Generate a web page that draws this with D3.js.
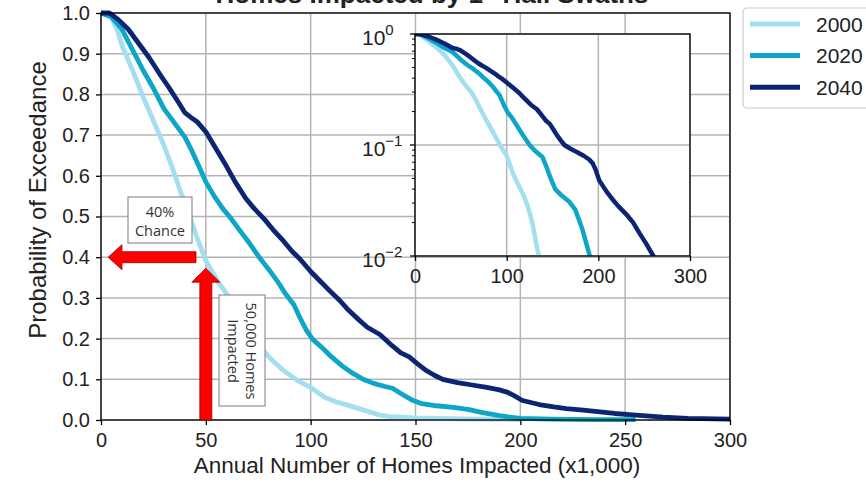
<!DOCTYPE html>
<html>
<head>
<meta charset="utf-8">
<script src="https://cdn.jsdelivr.net/npm/d3@7"></script>
<style>
  body { margin: 0; background: #fff; }
  text { font-family: "Liberation Sans", Arial, sans-serif; fill: #222; }
  .note { font-family: "Open Sans", sans-serif; font-size: 14.5px; fill: #333; }
</style>
</head>
<body>
<div id="graph"></div>
<script>
//exceedance curves, [homes x1000, probability]
var years = ["2000", "2020", "2040"];

var curve2000 = [[0,1.0],[3,0.998],[5,0.99],[8,0.955],[10,0.92],[15,0.86],[20,0.795],[25,0.735],[30,0.675],[34,0.62],[38,0.56],[42,0.505],[46,0.445],[50,0.392],[53,0.365],[56,0.338],[62,0.295],[66,0.258],[70,0.222],[77,0.172],[82,0.145],[87,0.122],[94,0.096],[100,0.08],[107,0.055],[112,0.045],[118,0.036],[123,0.028],[128,0.02],[133,0.012],[138,0.008],[150,0.005],[170,0.003],[200,0.001]];

var curve2020 = [[0,1.0],[5,0.99],[10,0.96],[15,0.91],[20,0.86],[25,0.815],[30,0.765],[35,0.73],[40,0.695],[43,0.665],[47,0.62],[50,0.585],[54,0.55],[58,0.52],[62,0.495],[66,0.467],[71,0.433],[75,0.403],[80,0.37],[84,0.342],[88,0.31],[92,0.283],[95,0.25],[98,0.22],[101,0.198],[106,0.175],[110,0.155],[115,0.133],[120,0.115],[125,0.1],[130,0.09],[135,0.083],[139,0.078],[143,0.065],[148,0.05],[153,0.04],[160,0.035],[168,0.031],[175,0.026],[182,0.018],[190,0.0105],[195,0.007],[200,0.004],[215,0.002],[235,0.001],[255,0.0008]];

var curve2040 = [[0,1.0],[4,1.0],[8,0.985],[13,0.96],[18,0.925],[23,0.89],[28,0.85],[32,0.82],[37,0.78],[40,0.755],[43,0.743],[46,0.732],[50,0.708],[55,0.665],[60,0.622],[64,0.585],[69,0.545],[73,0.52],[78,0.493],[82,0.468],[87,0.44],[91,0.415],[95,0.395],[100,0.365],[104,0.344],[109,0.318],[114,0.293],[118,0.27],[123,0.246],[127,0.228],[133,0.21],[139,0.182],[143,0.165],[147,0.155],[151,0.138],[155,0.122],[159,0.11],[163,0.1],[170,0.092],[177,0.086],[184,0.08],[190,0.074],[194,0.068],[197,0.06],[201,0.048],[209,0.038],[216,0.032],[222,0.028],[230,0.024],[238,0.02],[245,0.016],[252,0.013],[260,0.01],[268,0.007],[280,0.004],[300,0.002]];

var xTicks = [0, 50, 100, 150, 200, 250, 300];
var yTicks = [0, 0.1, 0.2, 0.3, 0.4, 0.5, 0.6, 0.7, 0.8, 0.9, 1.0];
var insetXTicks = [0, 100, 200, 300];
var insetYTicks = [1, 0.1, 0.01];
var insetYLabels = ["0", "\u22121", "\u22122"];

(function(){
	"use strict";

	var width = 866, height = 486;
	var colors = ["#a3dff0", "#0da6c6", "#0b2573"];
	var series = [curve2000, curve2020, curve2040];
	var grid = "#b4b4b4";

	var svg = d3.select("#graph").append("svg")
		.attr("width", width)
		.attr("height", height);

	//main axes scales
	var x = d3.scaleLinear().domain([0, 300]).range([101, 730]);
	var y = d3.scaleLinear().domain([0, 1]).range([420, 13]);

	//gridlines
	svg.append("g").selectAll("line").data(xTicks).enter().append("line")
		.attr("x1", function(d){ return x(d); }).attr("x2", function(d){ return x(d); })
		.attr("y1", y(0)).attr("y2", y(1))
		.attr("stroke", grid).attr("stroke-width", 1.5);
	svg.append("g").selectAll("line").data(yTicks).enter().append("line")
		.attr("y1", function(d){ return y(d); }).attr("y2", function(d){ return y(d); })
		.attr("x1", x(0)).attr("x2", x(300))
		.attr("stroke", grid).attr("stroke-width", 1.5);

	var line = d3.line()
		.x(function(d){ return x(d[0]); })
		.y(function(d){ return y(d[1]); });

	svg.append("g").selectAll("path").data(series).enter().append("path")
		.attr("d", line)
		.attr("fill", "none")
		.attr("stroke", function(d, i){ return colors[i]; })
		.attr("stroke-width", 4.8)
		.attr("stroke-linejoin", "round");

	//frame
	svg.append("rect")
		.attr("x", x(0)).attr("y", y(1))
		.attr("width", x(300) - x(0)).attr("height", y(0) - y(1))
		.attr("fill", "none").attr("stroke", "#000").attr("stroke-width", 1.3);

	var xAxis = svg.append("g")
		.attr("transform", "translate(0," + y(0) + ")")
		.call(d3.axisBottom(x).tickValues(xTicks).tickSize(5).tickPadding(8).tickFormat(d3.format("d")));
	var yAxis = svg.append("g")
		.attr("transform", "translate(" + x(0) + ",0)")
		.call(d3.axisLeft(y).tickValues(yTicks).tickSize(5).tickPadding(6).tickFormat(d3.format(".1f")));
	[xAxis, yAxis].forEach(function(a){
		a.select(".domain").remove();
		a.selectAll(".tick line").attr("stroke", "#000").attr("stroke-width", 1.3);
		a.selectAll("text").style("font-size", "20px").attr("fill", "#222");
	});

	svg.append("text")
		.attr("text-anchor", "middle")
		.attr("x", 417).attr("y", 473)
		.style("font-size", "22.5px")
		.text("Annual Number of Homes Impacted (x1,000)");
	svg.append("text")
		.attr("text-anchor", "middle")
		.attr("transform", "translate(46,200)rotate(-90)")
		.style("font-size", "24px")
		.text("Probability of Exceedance");

	//title, mostly cut off at the top edge
	svg.append("text")
		.attr("text-anchor", "middle")
		.attr("x", 432).attr("y", 3)
		.style("font-size", "26px").style("font-weight", "bold")
		.text("Homes Impacted by 1\" Hail Swaths");

	//red arrows
	var arrows = svg.append("g").attr("fill", "#ff0000").attr("stroke", "#9a0000").attr("stroke-width", 0.8);
	var ay = y(0.4);
	arrows.append("path").attr("d", d3.line()([
		[x(3.4), ay], [x(10), ay - 12.5], [x(10), ay - 5.5], [x(45.3), ay - 5.5],
		[x(45.3), ay + 5.5], [x(10), ay + 5.5], [x(10), ay + 12.5]]) + "Z");
	var ax = x(50), tip = y(0.373);
	arrows.append("path").attr("d", d3.line()([
		[ax, tip], [ax + 14, tip + 14], [ax + 6, tip + 14], [ax + 6, y(0)],
		[ax - 6, y(0)], [ax - 6, tip + 14], [ax - 14, tip + 14]]) + "Z");

	//note boxes
	svg.append("rect").attr("x", 128).attr("y", 197).attr("width", 64).attr("height", 46)
		.attr("fill", "#fff").attr("stroke", "#7a7a7a").attr("stroke-width", 1);
	svg.append("text").attr("class", "note").attr("text-anchor", "middle")
		.attr("x", 160).attr("y", 217).text("40%");
	svg.append("text").attr("class", "note").attr("text-anchor", "middle")
		.attr("x", 160).attr("y", 236).text("Chance");

	svg.append("rect").attr("x", 219).attr("y", 295).attr("width", 46).attr("height", 111)
		.attr("fill", "#fff").attr("stroke", "#7a7a7a").attr("stroke-width", 1);
	svg.append("text").attr("class", "note").attr("text-anchor", "middle")
		.attr("transform", "translate(246,351)rotate(90)").text("50,000 Homes");
	svg.append("text").attr("class", "note").attr("text-anchor", "middle")
		.attr("transform", "translate(228,351)rotate(90)").text("Impacted");

	//inset on log scale
	var xi = d3.scaleLinear().domain([0, 300]).range([415, 690]);
	var yi = d3.scaleLog().domain([0.01, 1]).range([256, 34]);
	var inset = svg.append("g");

	inset.append("rect")
		.attr("x", xi(0)).attr("y", yi(1))
		.attr("width", xi(300) - xi(0)).attr("height", yi(0.01) - yi(1))
		.attr("fill", "#fff");

	inset.append("g").selectAll("line").data(insetXTicks).enter().append("line")
		.attr("x1", function(d){ return xi(d); }).attr("x2", function(d){ return xi(d); })
		.attr("y1", yi(0.01)).attr("y2", yi(1))
		.attr("stroke", grid).attr("stroke-width", 1.5);
	inset.append("g").selectAll("line").data(insetYTicks).enter().append("line")
		.attr("y1", function(d){ return yi(d); }).attr("y2", function(d){ return yi(d); })
		.attr("x1", xi(0)).attr("x2", xi(300))
		.attr("stroke", grid).attr("stroke-width", 1.5);

	svg.append("clipPath").attr("id", "insetClip").append("rect")
		.attr("x", xi(0)).attr("y", yi(1))
		.attr("width", xi(300) - xi(0)).attr("height", yi(0.01) - yi(1));

	var lineLog = d3.line()
		.defined(function(d){ return d[1] > 0; })
		.x(function(d){ return xi(d[0]); })
		.y(function(d){ return yi(d[1]); });

	inset.append("g").attr("clip-path", "url(#insetClip)")
		.selectAll("path").data(series).enter().append("path")
		.attr("d", lineLog)
		.attr("fill", "none")
		.attr("stroke", function(d, i){ return colors[i]; })
		.attr("stroke-width", 4.5)
		.attr("stroke-linejoin", "round");

	inset.append("rect")
		.attr("x", xi(0)).attr("y", yi(1))
		.attr("width", xi(300) - xi(0)).attr("height", yi(0.01) - yi(1))
		.attr("fill", "none").attr("stroke", "#000").attr("stroke-width", 1.3);

	var ixAxis = inset.append("g")
		.attr("transform", "translate(0," + yi(0.01) + ")")
		.call(d3.axisBottom(xi).tickValues(insetXTicks).tickSize(5).tickPadding(8).tickFormat(d3.format("d")));
	ixAxis.select(".domain").remove();
	ixAxis.selectAll(".tick line").attr("stroke", "#000").attr("stroke-width", 1.3);
	ixAxis.selectAll("text").style("font-size", "20px").attr("fill", "#222");

	//log ticks, major and minor
	var minor = [];
	[0.01, 0.1].forEach(function(b){
		for (var k = 2; k < 10; k++) minor.push(b * k);
	});
	inset.append("g").selectAll("line").data(minor).enter().append("line")
		.attr("x1", xi(0) - 3).attr("x2", xi(0))
		.attr("y1", function(d){ return yi(d); }).attr("y2", function(d){ return yi(d); })
		.attr("stroke", "#000").attr("stroke-width", 1);
	inset.append("g").selectAll("line").data(insetYTicks).enter().append("line")
		.attr("x1", xi(0) - 5).attr("x2", xi(0))
		.attr("y1", function(d){ return yi(d); }).attr("y2", function(d){ return yi(d); })
		.attr("stroke", "#000").attr("stroke-width", 1.3);

	var lab = inset.append("g").selectAll("text").data(insetYTicks).enter().append("text")
		.attr("x", 362)
		.attr("y", function(d){ return yi(d) + 11; })
		.style("font-size", "21px");
	lab.append("tspan").text("10");
	lab.append("tspan")
		.attr("dy", -10)
		.style("font-size", "15px")
		.text(function(d, i){ return insetYLabels[i]; });

	//legend
	var legend = svg.append("g");
	legend.append("rect")
		.attr("x", 743).attr("y", 8).attr("width", 140).attr("height", 100).attr("rx", 4)
		.attr("fill", "#fff").attr("stroke", "#cccccc").attr("stroke-width", 1.2);
	var item = legend.selectAll("g.item").data(years).enter().append("g")
		.attr("transform", function(d, i){ return "translate(0," + (24 + i * 31.6) + ")"; });
	item.append("line")
		.attr("x1", 750).attr("x2", 800)
		.attr("stroke", function(d, i){ return colors[i]; })
		.attr("stroke-width", 5);
	item.append("text")
		.attr("x", 816).attr("y", 7.5)
		.style("font-size", "21px")
		.text(function(d){ return d; });
})();
</script>
</body>
</html>
